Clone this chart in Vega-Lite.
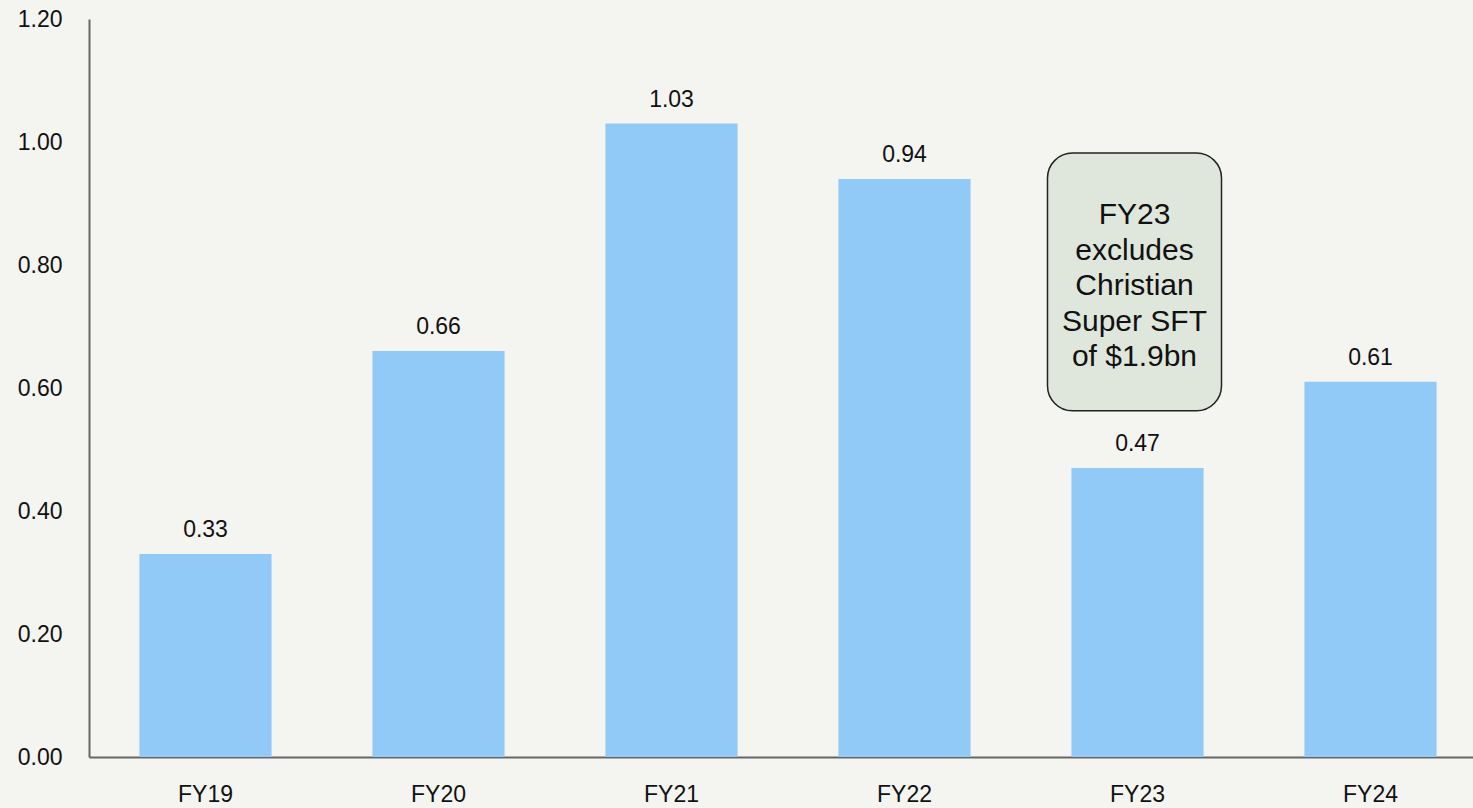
{
  "$schema": "https://vega.github.io/schema/vega-lite/v6.json",
  "autosize": {"type": "none"},
  "padding": {"left": 89, "top": 19, "right": 0, "bottom": 51},
  "width": 1398,
  "height": 738,
  "background": "#f4f4f0",
  "config": {
    "view": {"stroke": null},
    "font": "Liberation Sans",
    "axis": {"grid": false, "ticks": false, "domainColor": "#666666", "domainWidth": 2, "labelColor": "#111111", "labelFontSize": 23, "labelFont": "Liberation Sans", "title": null}
  },
  "datasets": {
    "bars": [
      {"year": "FY19", "value": 0.33},
      {"year": "FY20", "value": 0.66},
      {"year": "FY21", "value": 1.03},
      {"year": "FY22", "value": 0.94},
      {"year": "FY23", "value": 0.47},
      {"year": "FY24", "value": 0.61}
    ],
    "note": [
      {"year": "FY23", "top": 0.982, "bottom": 0.563, "first": 0.881, "text": ["FY23", "excludes", "Christian", "Super SFT", "of $1.9bn"]}
    ]
  },
  "layer": [
    {
      "data": {"name": "bars"},
      "mark": {"type": "bar", "color": "#91c9f7"},
      "encoding": {
        "x": {"field": "year", "type": "nominal", "sort": null,
          "scale": {"paddingInner": 0.433, "paddingOuter": 0.2165},
          "axis": {"labelAngle": 0, "labelPadding": 26, "labelBaseline": "top"}},
        "y": {"field": "value", "type": "quantitative",
          "scale": {"domain": [0, 1.2], "nice": false},
          "axis": {"values": [0, 0.2, 0.4, 0.6, 0.8, 1.0, 1.2], "format": ".2f", "labelPadding": 27}}
      }
    },
    {
      "data": {"name": "bars"},
      "mark": {"type": "text", "baseline": "bottom", "dy": -12, "fontSize": 23, "color": "#111111"},
      "encoding": {
        "x": {"field": "year", "type": "nominal", "sort": null},
        "y": {"field": "value", "type": "quantitative"},
        "text": {"field": "value", "type": "quantitative", "format": ".2f"}
      }
    },
    {
      "data": {"name": "note"},
      "mark": {"type": "bar", "width": 174, "xOffset": -3, "fill": "#dfe6dc", "stroke": "#222222", "strokeWidth": 1.5, "cornerRadius": 25},
      "encoding": {
        "x": {"field": "year", "type": "nominal", "sort": null},
        "y": {"field": "top", "type": "quantitative"},
        "y2": {"field": "bottom"}
      }
    },
    {
      "data": {"name": "note"},
      "mark": {"type": "text", "fontSize": 30, "lineHeight": 35.5, "baseline": "middle", "align": "center", "color": "#111111", "dx": -3},
      "encoding": {
        "x": {"field": "year", "type": "nominal", "sort": null},
        "y": {"field": "first", "type": "quantitative"},
        "text": {"field": "text"}
      }
    }
  ]
}
